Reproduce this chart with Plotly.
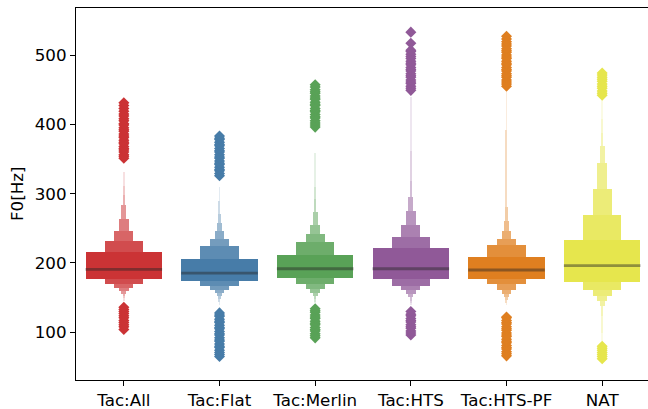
import plotly.graph_objects as go

categories = ["Tac:All", "Tac:Flat", "Tac:Merlin", "Tac:HTS", "Tac:HTS-PF", "NAT"]
base_colors = [(203, 51, 53), (71, 124, 168), (89, 162, 87), (144, 89, 152), (223, 127, 32), (230, 230, 77)]

medians = [190.9, 185.5, 191.7, 191.7, 189.9, 196.1]

# letter-value box ends, innermost (quartile box) first
box_upper = [
    [215.8, 231.7, 246.1, 263.4, 283.6, 298.0, 311.0, 331.6],
    [205.7, 224.5, 235.0, 246.0, 257.6, 270.2, 289.4, 309.6],
    [211.5, 230.2, 242.3, 255.2, 273.1, 292.7, 310.0, 359.0],
    [221.6, 237.5, 254.8, 275.0, 295.2, 318.2, 361.5, 439.8],
    [208.2, 225.5, 234.1, 245.7, 260.1, 280.7, 391.8, 447.0],
    [233.1, 269.2, 306.7, 344.2, 368.7, 387.9, 407.2, 435.0],
]
box_lower = [
    [176.9, 170.1, 164.4, 159.6, 155.7, 152.4, 149.0, 145.6],
    [174.0, 167.2, 161.5, 156.7, 152.4, 148.0, 143.3, 139.4],
    [178.8, 170.1, 162.5, 157.1, 152.4, 148.5, 143.3, 141.8],
    [176.9, 167.2, 161.0, 155.7, 150.5, 145.6, 141.8, 139.0],
    [177.3, 169.7, 161.5, 155.7, 150.5, 146.2, 141.8, 139.4],
    [173.0, 161.0, 152.4, 145.1, 138.0, 123.5, 98.6, 88.0],
]

outliers_high = [
    [351, 354, 356, 360, 363, 365, 368, 372, 374, 377, 381, 383, 386, 390, 392, 395, 399, 401, 405, 408, 412, 415, 419, 423, 427, 431],
    [326, 329, 333, 335, 338, 342, 344, 347, 351, 353, 356, 360, 362, 365, 369, 371, 374, 378, 380, 383],
    [396, 399, 402, 405, 409, 411, 414, 418, 420, 423, 427, 429, 432, 436, 438, 441, 445, 447, 450, 454, 457],
    [449, 452, 455, 459, 461, 464, 468, 470, 473, 477, 479, 482, 486, 488, 491, 495, 498, 501, 505, 507, 517, 533],
    [455, 458, 461, 464, 468, 470, 473, 477, 479, 482, 486, 488, 491, 495, 497, 500, 504, 506, 509, 513, 516, 519, 523, 527],
    [442, 445, 448, 452, 455, 458, 462, 465, 468, 471, 474],
]
outliers_low = [
    [104, 108, 111, 114, 117, 121, 124, 127, 130, 133, 136],
    [65, 68, 71, 74, 78, 80, 83, 87, 89, 92, 96, 98, 101, 105, 107, 110, 114, 116, 119, 123, 125, 128],
    [92, 95, 98, 102, 104, 107, 111, 113, 116, 120, 122, 125, 129, 131, 134],
    [96, 99, 102, 106, 108, 111, 115, 117, 120, 124, 126, 130],
    [66, 69, 72, 76, 78, 81, 85, 87, 90, 94, 96, 99, 103, 105, 108, 112, 114, 117, 121, 122],
    [62, 65, 68, 71, 74, 77, 80],
]

BOX_WIDTH = 0.8


def blend(c, t):
    r, g, b = (round(v + (255 - v) * t) for v in c)
    return f"rgb({r},{g},{b})"


fig = go.Figure()

for i, cat in enumerate(categories):
    ups, lows = box_upper[i], box_lower[i]
    n = len(ups)
    xs, bases, heights, widths, cols = [], [], [], [], []
    # draw outermost (narrowest) first so the wide inner boxes lie on top
    for j in reversed(range(n)):
        xs.append(i)
        bases.append(lows[j])
        heights.append(ups[j] - lows[j])
        widths.append(BOX_WIDTH * 0.5 ** j)
        cols.append(blend(base_colors[i], 0.85 * j / (n - 1)))
    fig.add_trace(go.Bar(
        x=xs, y=heights, base=bases, width=widths,
        marker=dict(color=cols, line=dict(width=0)),
        showlegend=False, hoverinfo="skip",
    ))

for i, cat in enumerate(categories):
    pts = outliers_high[i] + outliers_low[i]
    fig.add_trace(go.Scatter(
        x=[i] * len(pts), y=pts, mode="markers",
        marker=dict(symbol="diamond", size=8.5, color="rgb(%d,%d,%d)" % base_colors[i], line=dict(width=0)),
        showlegend=False, hoverinfo="skip",
    ))

mx, my = [], []
for i, m in enumerate(medians):
    mx += [i - BOX_WIDTH / 2, i + BOX_WIDTH / 2, None]
    my += [m, m, None]
fig.add_trace(go.Scatter(
    x=mx, y=my, mode="lines",
    line=dict(color="rgba(38,38,38,0.45)", width=2.8),
    showlegend=False, hoverinfo="skip",
))

font = dict(family="DejaVu Sans", size=16.7, color="black")

fig.update_layout(
    width=648, height=409,
    margin=dict(l=76, r=0, t=8, b=29, autoexpand=False),
    paper_bgcolor="white", plot_bgcolor="white",
    barmode="overlay", bargap=0,
    font=font,
    xaxis=dict(
        range=[-0.5, 5.479], tickmode="array", tickvals=list(range(len(categories))),
        ticktext=categories, ticks="outside", ticklen=5, tickwidth=1.1, tickcolor="black",
        showline=True, linecolor="black", linewidth=1.1, mirror=True,
        showgrid=False, zeroline=False, tickfont=font,
    ),
    yaxis=dict(
        range=[31.2, 567.8], tickvals=[100, 200, 300, 400, 500],
        ticks="outside", ticklen=5, tickwidth=1.1, tickcolor="black",
        showline=True, linecolor="black", linewidth=1.1,
        showgrid=False, zeroline=False, tickfont=font,
    ),
    annotations=[dict(
        text="F0[Hz]", xref="paper", yref="paper", x=-0.103, y=0.5,
        xanchor="center", yanchor="middle", textangle=-90, showarrow=False, font=font,
    )],
)

fig.write_html(
    "out.html",
    config={"displayModeBar": False},
    post_script="document.body.style.margin='0';document.body.style.overflow='hidden';",
)
